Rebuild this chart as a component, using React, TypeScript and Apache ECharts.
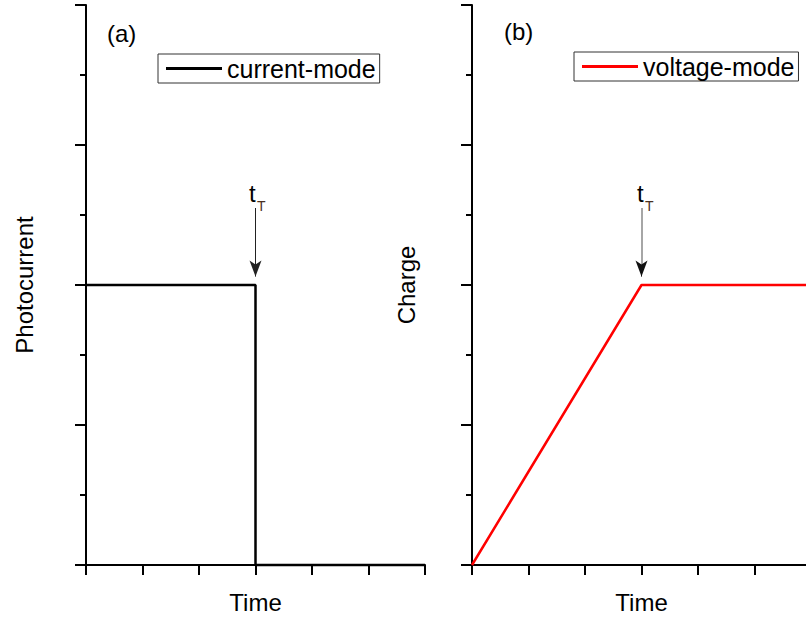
import React, { useEffect, useRef } from "react";
import * as echarts from "echarts";

// ---- data ----
const timeMin = 0;
const timeMax = 6;
const yMin = 0;
const yMax = 4;
const currentModeX = [0, 3, 3, 6];
const currentModeY = [2, 2, 0, 0];
const voltageModeX = [0, 3, 6];
const voltageModeY = [0, 2, 2];
const transitTime = 3;
const arrowFrom = 2.55;
const arrowTo = 2.06;
const seriesNames = ["current-mode", "voltage-mode"];
const panelLabels = ["(a)", "(b)"];
const yNames = ["Photocurrent", "Charge"];
const xName = "Time";

const FONT = "'Liberation Sans', Arial, sans-serif";

function xAxisCfg(gridIndex: number) {
  return {
    type: "value",
    gridIndex,
    min: timeMin,
    max: timeMax,
    interval: 1,
    axisLine: { show: true, onZero: false, lineStyle: { color: "#000", width: 2 } },
    axisTick: { show: true, length: 10, lineStyle: { color: "#000", width: 2 } },
    axisLabel: { show: false },
    splitLine: { show: false },
    name: xName,
    nameLocation: "middle",
    nameGap: 25,
    nameTextStyle: { fontSize: 24, color: "#000", fontFamily: FONT },
  };
}

function yAxisCfg(gridIndex: number, name: string, gap: number) {
  return {
    type: "value",
    gridIndex,
    min: yMin,
    max: yMax,
    interval: 1,
    axisLine: { show: true, onZero: false, lineStyle: { color: "#000", width: 2 } },
    axisTick: { show: true, length: 11, lineStyle: { color: "#000", width: 2 } },
    minorTick: { show: true, splitNumber: 2, length: 6, lineStyle: { color: "#000", width: 2 } },
    axisLabel: { show: false },
    splitLine: { show: false },
    minorSplitLine: { show: false },
    name,
    nameLocation: "middle",
    nameRotate: 90,
    nameGap: gap,
    nameTextStyle: { fontSize: 24, color: "#000", fontFamily: FONT },
  };
}

function legendCfg(name: string, left: number, top: number) {
  return {
    data: [{ name, icon: "rect" }],
    left,
    top,
    orient: "horizontal",
    padding: [2, 4, 2, 8],
    itemWidth: 56,
    itemHeight: 3,
    borderColor: "#333",
    borderWidth: 1,
    borderRadius: 0,
    backgroundColor: "#fff",
    textStyle: { fontSize: 25, color: "#000", fontFamily: FONT, lineHeight: 25 },
  };
}

export default function App() {
  const ref = useRef<HTMLDivElement>(null);
  useEffect(() => {
    if (!ref.current) return;
    const chart = echarts.init(ref.current, undefined, { renderer: "svg" });
    const option: any = {
      animation: false,
      backgroundColor: "#fff",
      grid: [
        { left: 86, top: 5, width: 339, height: 560, outerBoundsMode: "none", containLabel: false },
        { left: 472, top: 5, width: 339, height: 560, outerBoundsMode: "none", containLabel: false },
      ],
      xAxis: [xAxisCfg(0), xAxisCfg(1)],
      yAxis: [yAxisCfg(0, yNames[0], 50), yAxisCfg(1, yNames[1], 54)],
      legend: [legendCfg(seriesNames[0], 158, 54), legendCfg(seriesNames[1], 574, 52)],
      series: [
        {
          name: seriesNames[0],
          type: "line",
          xAxisIndex: 0,
          yAxisIndex: 0,
          data: currentModeX.map((x, i) => [x, currentModeY[i]]),
          symbol: "none",
          color: "#000",
          lineStyle: { color: "#000", width: 2.5 },
          clip: false,
          markLine: {
            silent: true,
            symbol: ["none", "arrow"],
            symbolSize: [9, 16],
            label: { show: false },
            lineStyle: { color: "#222", width: 1, type: "solid" },
            data: [[{ coord: [transitTime, arrowFrom] }, { coord: [transitTime, arrowTo] }]],
          },
        },
        {
          name: seriesNames[1],
          type: "line",
          xAxisIndex: 1,
          yAxisIndex: 1,
          data: voltageModeX.map((x, i) => [x, voltageModeY[i]]),
          symbol: "none",
          color: "#ff0000",
          lineStyle: { color: "#ff0000", width: 2.5 },
          markLine: {
            silent: true,
            symbol: ["none", "arrow"],
            symbolSize: [9, 16],
            label: { show: false },
            lineStyle: { color: "#888", width: 1.5, type: "solid" },
            data: [
              [
                { coord: [transitTime, arrowFrom], symbol: "none", lineStyle: { color: "#888", width: 1.5, type: "solid" } },
                { coord: [transitTime, 2.14], symbol: "none" },
              ],
              [
                { coord: [transitTime, 2.14], symbol: "none", lineStyle: { color: "#111", width: 1, type: "solid" } },
                { coord: [transitTime, arrowTo], symbol: "arrow" },
              ],
            ],
          },
        },
      ],
      graphic: [
        { type: "text", left: 107, top: 21, style: { text: panelLabels[0], fontSize: 24, fontFamily: FONT, fill: "#000" } },
        { type: "text", left: 504, top: 19, style: { text: panelLabels[1], fontSize: 24, fontFamily: FONT, fill: "#000" } },
        { type: "text", left: 249, top: 181, style: { text: "t", fontSize: 24, fontFamily: FONT, fill: "#000" } },
        { type: "text", left: 257, top: 199, style: { text: "T", fontSize: 14, fontFamily: FONT, fill: "#4a3020" } },
        { type: "text", left: 637, top: 181, style: { text: "t", fontSize: 24, fontFamily: FONT, fill: "#000" } },
        { type: "text", left: 645, top: 199, style: { text: "T", fontSize: 14, fontFamily: FONT, fill: "#4a3020" } },
      ],
    };
    chart.setOption(option);
    return () => chart.dispose();
  }, []);
  return (
    <div
      ref={ref}
      style={{ position: "fixed", left: 0, top: 0, width: 806, height: 618, background: "#fff" }}
    />
  );
}
